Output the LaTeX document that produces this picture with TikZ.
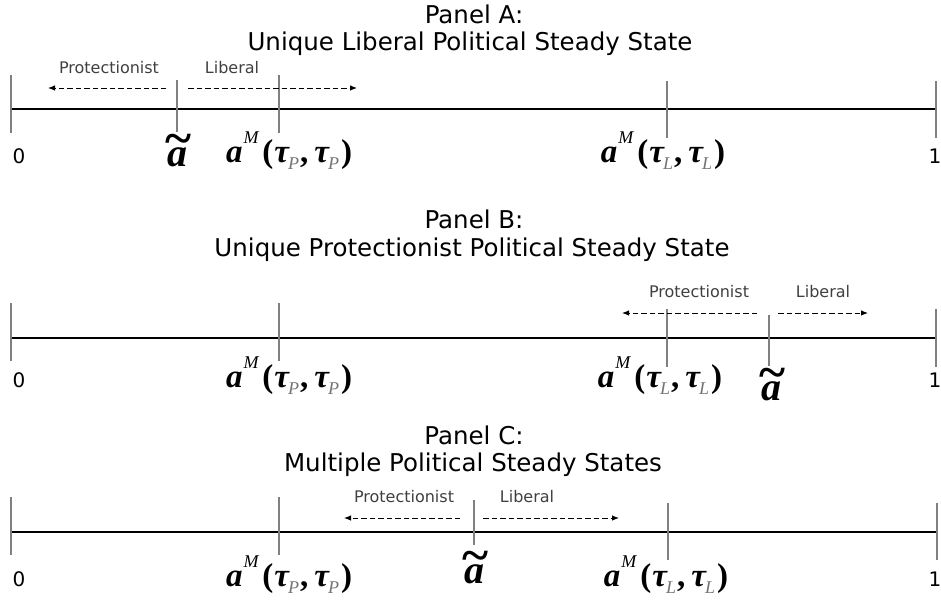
\documentclass[tikz,border=0pt]{standalone}
\usepackage{amsmath,graphicx}
\usepackage{fontspec}
\setmainfont{DejaVu Sans}
\newfontfamily\tmsfont{Liberation Serif}
\usetikzlibrary{arrows.meta}
\newcommand{\mysupM}{\raisebox{0.55em}{\fontsize{18}{18}\selectfont\mdseries\itshape M}}
\newcommand{\mysb}[1]{\raisebox{-0.22em}{\fontsize{18}{18}\selectfont\mdseries\itshape\color{black!55}#1}}
\newcommand{\aMlab}[1]{\tmsfont\bfseries\itshape a\kern1pt\mysupM\kern4pt{\upshape(}\kern1pt τ\kern-1pt\mysb{#1}\kern1pt{\upshape,\kern6pt}τ\kern-1pt\mysb{#1}\kern2pt{\upshape)}}
\newcommand{\atil}{\tmsfont\bfseries\itshape\ooalign{\hidewidth\kern2pt\raisebox{0.3em}{\scalebox{1.25}[1.2]{\upshape\char"007E}}\hidewidth\cr a\cr}}
\begin{document}
\begin{tikzpicture}[x=1pt,y=-1pt,
  axisline/.style={line width=2.6pt,black},
  tickline/.style={line width=1.1pt,black!50},
  dasharrow/.style={line width=0.9pt,dash pattern=on 5.5pt off 3pt,-{Latex[length=7pt,width=5.5pt]}},
  smalllab/.style={font=\fontsize{16}{18}\selectfont,text=black!75,inner sep=0pt,anchor=base},
  titlelab/.style={font=\fontsize{24.5}{28}\selectfont,inner sep=0pt,anchor=base},
  numlab/.style={font=\fontsize{20}{22}\selectfont,inner sep=0pt,anchor=base},
  mathlab/.style={font=\fontsize{33}{36}\selectfont,inner sep=0pt,anchor=base},
  tildelab/.style={font=\fontsize{40}{44}\selectfont,inner sep=0pt,anchor=base}]
\useasboundingbox (0,0) rectangle (941,603);
% ---------- Panel A ----------
\node[titlelab] (tA1) at (474,23) {Panel A:};
\node[titlelab] (tA2) at (470,50) {Unique Liberal Political Steady State};
\coordinate (A0) at (11,109); \coordinate (A1) at (937,109);
\draw[axisline] (A0) -- (A1);
\coordinate (Aat) at (11,75);  \coordinate (Aab) at (11,133);
\coordinate (Abt) at (177,80); \coordinate (Abb) at (177,132);
\coordinate (Act) at (279,75); \coordinate (Acb) at (279,133);
\coordinate (Adt) at (667,81); \coordinate (Adb) at (667,138);
\coordinate (Aet) at (936,81); \coordinate (Aeb) at (936,138);
\draw[tickline] (Aat)--(Aab); \draw[tickline] (Abt)--(Abb); \draw[tickline] (Act)--(Acb);
\draw[tickline] (Adt)--(Adb); \draw[tickline] (Aet)--(Aeb);
\node[smalllab] (Ap) at (109,73) {Protectionist};
\node[smalllab] (Al) at (232,73) {Liberal};
\coordinate (Apa) at (166,88); \coordinate (Apb) at (48,88);
\coordinate (Ala) at (188,88); \coordinate (Alb) at (357,88);
\draw[dasharrow] (Apa) -- (Apb);
\draw[dasharrow] (Ala) -- (Alb);
\node[numlab] (A0l) at (19,163) {0};
\node[tildelab] (Atl) at (177,166) {\atil};
\node[mathlab] (AMP) at (289,162) {\aMlab{P}};
\node[mathlab] (AML) at (663,162) {\aMlab{L}};
\node[numlab] (A1l) at (935,163) {1};
% ---------- Panel B ----------
\node[titlelab] (tB1) at (474,228) {Panel B:};
\node[titlelab] (tB2) at (472,256) {Unique Protectionist Political Steady State};
\coordinate (B0) at (11,338); \coordinate (B1) at (937,338);
\draw[axisline] (B0) -- (B1);
\coordinate (Bat) at (11,303);  \coordinate (Bab) at (11,361);
\coordinate (Bct) at (279,303); \coordinate (Bcb) at (279,361);
\coordinate (Bdt) at (667,309); \coordinate (Bdb) at (667,367);
\coordinate (Bbt) at (769,315); \coordinate (Bbb) at (769,366);
\coordinate (Bet) at (936,309); \coordinate (Beb) at (936,367);
\draw[tickline] (Bat)--(Bab); \draw[tickline] (Bct)--(Bcb); \draw[tickline] (Bdt)--(Bdb);
\draw[tickline] (Bbt)--(Bbb); \draw[tickline] (Bet)--(Beb);
\node[smalllab] (Bp) at (699,297) {Protectionist};
\node[smalllab] (Bl) at (823,297) {Liberal};
\coordinate (Bpa) at (757,313); \coordinate (Bpb) at (622,313);
\coordinate (Bla) at (778,313); \coordinate (Blb) at (868,313);
\draw[dasharrow] (Bpa) -- (Bpb);
\draw[dasharrow] (Bla) -- (Blb);
\node[numlab] (B0l) at (19,387) {0};
\node[mathlab] (BMP) at (289,387) {\aMlab{P}};
\node[mathlab] (BML) at (660,387) {\aMlab{L}};
\node[tildelab] (Btl) at (771,400) {\atil};
\node[numlab] (B1l) at (935,387) {1};
% ---------- Panel C ----------
\node[titlelab] (tC1) at (474,444) {Panel C:};
\node[titlelab] (tC2) at (473,471) {Multiple Political Steady States};
\coordinate (C0) at (11,532); \coordinate (C1) at (937,532);
\draw[axisline] (C0) -- (C1);
\coordinate (Cat) at (11,497);  \coordinate (Cab) at (11,555);
\coordinate (Cct) at (279,497); \coordinate (Ccb) at (279,555);
\coordinate (Cbt) at (474,500); \coordinate (Cbb) at (474,545);
\coordinate (Cdt) at (668,503); \coordinate (Cdb) at (668,560);
\coordinate (Cet) at (937,503); \coordinate (Ceb) at (937,560);
\draw[tickline] (Cat)--(Cab); \draw[tickline] (Cct)--(Ccb); \draw[tickline] (Cbt)--(Cbb);
\draw[tickline] (Cdt)--(Cdb); \draw[tickline] (Cet)--(Ceb);
\node[smalllab] (Cp) at (404,502) {Protectionist};
\node[smalllab] (Cl) at (527,502) {Liberal};
\coordinate (Cpa) at (460,518); \coordinate (Cpb) at (344,518);
\coordinate (Cla) at (483,518); \coordinate (Clb) at (619,518);
\draw[dasharrow] (Cpa) -- (Cpb);
\draw[dasharrow] (Cla) -- (Clb);
\node[numlab] (C0l) at (19,586) {0};
\node[mathlab] (CMP) at (289,586) {\aMlab{P}};
\node[tildelab] (Ctl) at (474,583) {\atil};
\node[mathlab] (CML) at (666,586) {\aMlab{L}};
\node[numlab] (C1l) at (935,586) {1};
\end{tikzpicture}
\end{document}
